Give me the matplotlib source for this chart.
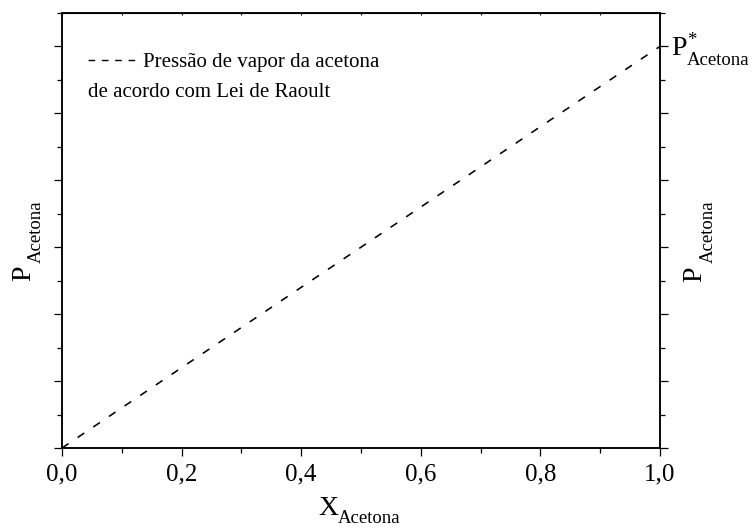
import numpy as np
import matplotlib
matplotlib.use("Agg")
import matplotlib.pyplot as plt
from matplotlib.ticker import MultipleLocator, FixedLocator
from matplotlib.lines import Line2D

plt.rcParams['font.family'] = ['Liberation Serif', 'DejaVu Serif']

# ideal solution: Raoult law, P = x * P*
x_acetona = [0.0, 1.0]
p_star = 6.0
p_acetona = [x * p_star for x in x_acetona]

x_ticks = [0.0, 0.2, 0.4, 0.6, 0.8, 1.0]
x_labels = ["0,0", "0,2", "0,4", "0,6", "0,8", "1,0"]
legend_line1 = "Pressão de vapor da acetona"
legend_line2 = "de acordo com Lei de Raoult"

BIG = 20
SMALL = 13.5


def put(ax, s, xy, xycoords, off, size, rot=0):
    # text anchored at start of its baseline, offset in points
    return ax.annotate(s, xy=xy, xycoords=xycoords, xytext=off,
                       textcoords='offset points', fontsize=size,
                       ha='left', va='baseline', rotation=rot,
                       rotation_mode='anchor', annotation_clip=False)


fig = plt.figure(figsize=(7.55, 5.28), dpi=100)
ax = fig.add_axes([0.0821, 0.1515, 0.874 - 0.0821, 0.9754 - 0.1515])

ax.plot(x_acetona, p_acetona, color='black', lw=1.15, dashes=(5.0, 6.8))

ax.set_xlim(0, 1)
ax.set_ylim(0, 6.5)

ax.xaxis.set_major_locator(FixedLocator(x_ticks))
ax.set_xticklabels(x_labels)
ax.xaxis.set_minor_locator(MultipleLocator(0.1))
ax.yaxis.set_major_locator(MultipleLocator(1))
ax.yaxis.set_minor_locator(MultipleLocator(0.5))
ax.set_yticklabels([])

for s in ax.spines.values():
    s.set_linewidth(1.1)

ax.tick_params(axis='both', which='major', direction='out', length=6, width=0.9,
               labelsize=18, pad=5)
ax.tick_params(axis='both', which='minor', direction='out', length=3.5, width=0.9)
ax.tick_params(axis='x', which='both', top=False)
ax.tick_params(axis='y', which='both', right=False)

# right side axis
ax2 = ax.twinx()
ax2.set_ylim(ax.get_ylim())
ax2.yaxis.set_major_locator(MultipleLocator(1))
ax2.yaxis.set_minor_locator(MultipleLocator(0.5))
ax2.set_yticklabels([])
ax2.tick_params(axis='y', which='major', direction='out', length=6, width=0.9)
ax2.tick_params(axis='y', which='minor', direction='out', length=3.5, width=0.9)
for s in ax2.spines.values():
    s.set_linewidth(1.1)

# tiny inner ticks on top
ax3 = ax.secondary_xaxis('top')
ax3.xaxis.set_major_locator(MultipleLocator(0.1))
ax3.tick_params(direction='in', length=1.5, width=0.8, labeltop=False)

# axis labels with lowered subscripts (Origin style)
put(ax, "X", (0.5, 0), 'axes fraction', (-30.6, -48.0), BIG)
put(ax, "Acetona", (0.5, 0), 'axes fraction', (-16.4, -53.8), SMALL)

put(ax, "P", (0, 0.5), 'axes fraction', (-23.0, -36.4), BIG, rot=90)
put(ax, "Acetona", (0, 0.5), 'axes fraction', (-15.6, -23.4), SMALL, rot=90)

put(ax, "P", (1, 0.5), 'axes fraction', (29.5, -36.8), BIG, rot=90)
put(ax, "Acetona", (1, 0.5), 'axes fraction', (38.2, -23.4), SMALL, rot=90)

# P* label next to the right tick
put(ax, "P", (1, p_star), ('axes fraction', 'data'), (8.0, -5.8), BIG)
put(ax, "*", (1, p_star), ('axes fraction', 'data'), (19.6, 1.0), SMALL)
put(ax, "Acetona", (1, p_star), ('axes fraction', 'data'), (19.6, -13.0), SMALL)

handle = Line2D([], [], color='black', lw=1.0, dashes=(4.8, 4.8))
ax.legend([handle], [legend_line1], loc='center left',
          bbox_to_anchor=(0.0435, 0.887), frameon=False, fontsize=15,
          handlelength=2.5, handletextpad=0.15, borderpad=0, borderaxespad=0)
ax.text(0.0435, 0.807, legend_line2, transform=ax.transAxes, fontsize=15,
        ha='left', va='baseline')

fig.savefig("out.png", dpi=100)
